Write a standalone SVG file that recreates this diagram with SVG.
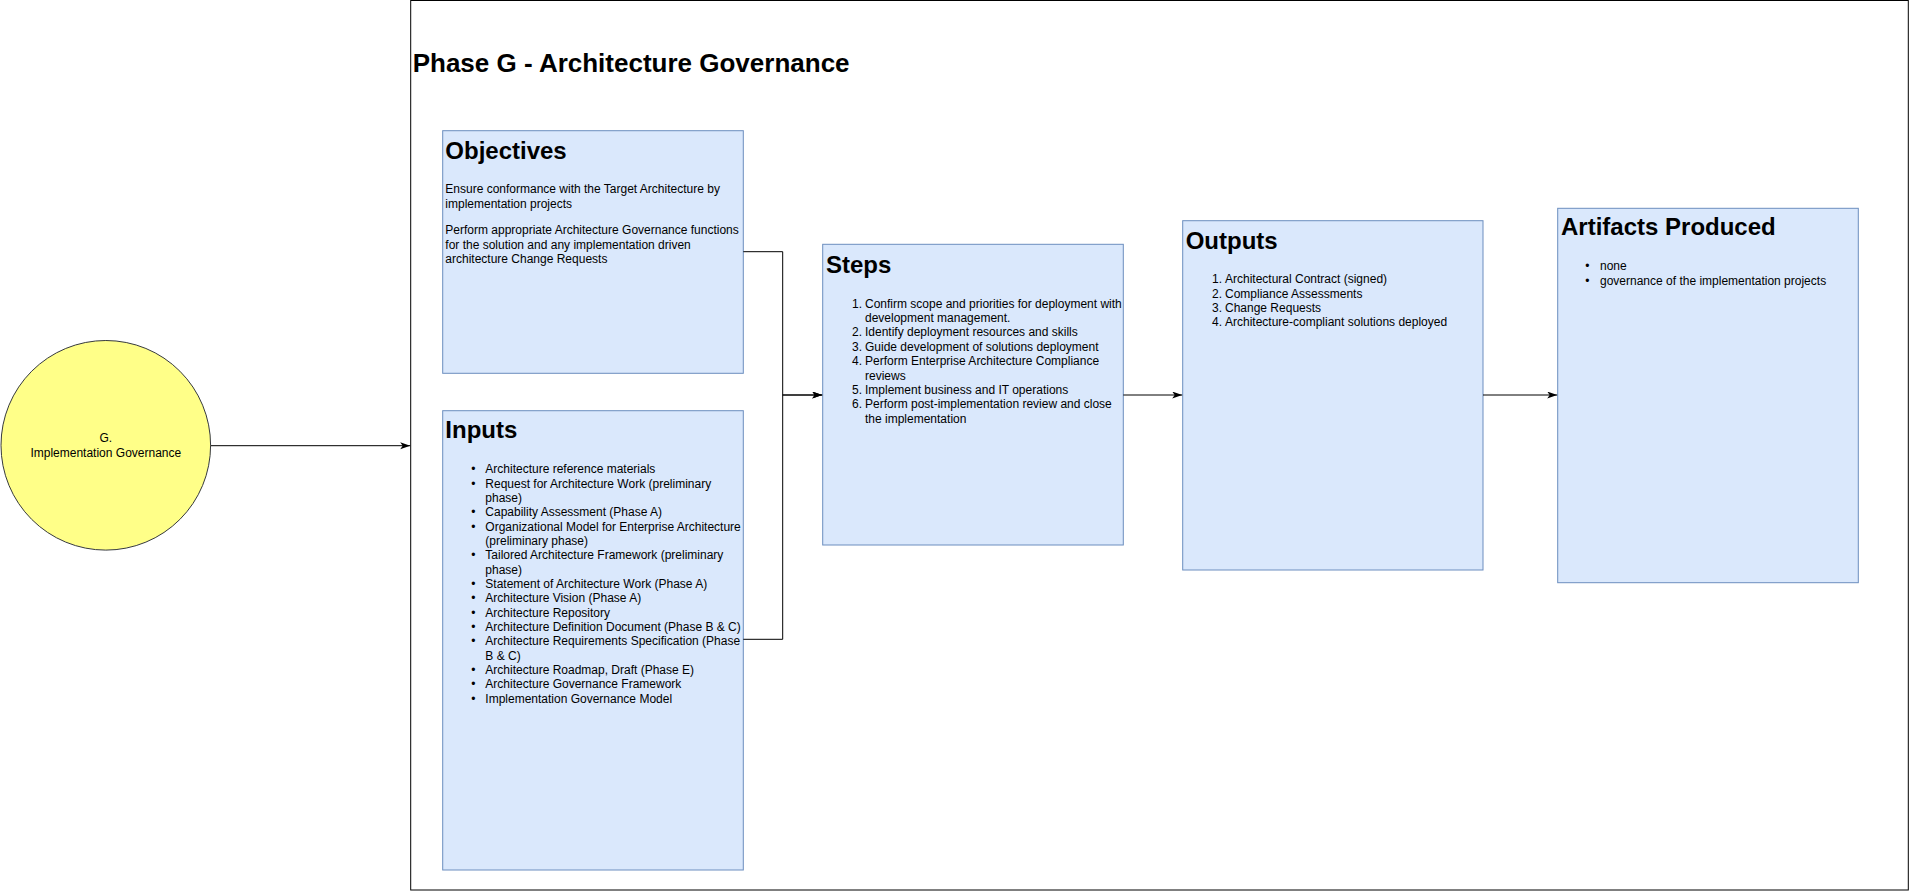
<svg xmlns="http://www.w3.org/2000/svg" width="1911" height="891" viewBox="0 0 1911 891">
<style>
  .box{fill:#dae8fc;stroke:#6c8ebf;stroke-width:1;}
  .h{font-family:"Liberation Sans",Arial,sans-serif;font-weight:bold;font-size:24px;fill:#000;}
  .t{font-family:"Liberation Sans",Arial,sans-serif;font-size:12px;fill:#000;}
  .b{font-family:"Liberation Sans",Arial,sans-serif;font-size:12px;fill:#000;text-anchor:middle;}
  .n{font-family:"Liberation Sans",Arial,sans-serif;font-size:12px;fill:#000;text-anchor:end;}
  .conn{fill:none;stroke:#000;stroke-width:1;}
</style>
<defs>
  <marker id="arr" markerUnits="userSpaceOnUse" markerWidth="11" markerHeight="8" refX="10" refY="3.5" orient="auto">
    <path d="M0,0 L10,3.5 L0,7 L2.5,3.5 z" fill="#000"/>
  </marker>
</defs>
<rect width="1911" height="891" fill="#fff"/>

<g id="container">
  <rect x="410.7" y="0.5" width="1497.6" height="889.5" fill="#fff" stroke="#000" stroke-width="1"/>
  <text x="412.7" y="71.7" class="h" style="font-size:26px">Phase G - Architecture Governance</text>
</g>

<g id="objectives">
  <rect class="box" x="442.7" y="130.7" width="300.6" height="242.6"/>
  <text x="445.3" y="159.3" class="h">Objectives</text>
  <text class="t"><tspan x="445.3" y="193.3">Ensure conformance with the Target Architecture by</tspan><tspan x="445.3" y="207.5">implementation projects</tspan><tspan x="445.3" y="234.3">Perform appropriate Architecture Governance functions</tspan><tspan x="445.3" y="248.5">for the solution and any implementation driven</tspan><tspan x="445.3" y="262.7">architecture Change Requests</tspan></text>
</g>

<g id="inputs">
  <rect class="box" x="442.7" y="410.7" width="300.6" height="459.3"/>
  <text x="445.3" y="438.3" class="h">Inputs</text>
  <text class="b" x="473.3" y="473.3">•</text>
  <text class="b" x="473.3" y="487.6">•</text>
  <text class="b" x="473.3" y="516.3">•</text>
  <text class="b" x="473.3" y="530.6">•</text>
  <text class="b" x="473.3" y="559.3">•</text>
  <text class="b" x="473.3" y="587.9">•</text>
  <text class="b" x="473.3" y="602.3">•</text>
  <text class="b" x="473.3" y="616.6">•</text>
  <text class="b" x="473.3" y="630.9">•</text>
  <text class="b" x="473.3" y="645.3">•</text>
  <text class="b" x="473.3" y="673.9">•</text>
  <text class="b" x="473.3" y="688.3">•</text>
  <text class="b" x="473.3" y="702.6">•</text>
  <text class="t"><tspan x="485.3" y="473.3">Architecture reference materials</tspan><tspan x="485.3" y="487.6">Request for Architecture Work (preliminary</tspan><tspan x="485.3" y="502.0">phase)</tspan><tspan x="485.3" y="516.3">Capability Assessment (Phase A)</tspan><tspan x="485.3" y="530.6">Organizational Model for Enterprise Architecture</tspan><tspan x="485.3" y="545.0">(preliminary phase)</tspan><tspan x="485.3" y="559.3">Tailored Architecture Framework (preliminary</tspan><tspan x="485.3" y="573.6">phase)</tspan><tspan x="485.3" y="587.9">Statement of Architecture Work (Phase A)</tspan><tspan x="485.3" y="602.3">Architecture Vision (Phase A)</tspan><tspan x="485.3" y="616.6">Architecture Repository</tspan><tspan x="485.3" y="630.9">Architecture Definition Document (Phase B &amp; C)</tspan><tspan x="485.3" y="645.3">Architecture Requirements Specification (Phase</tspan><tspan x="485.3" y="659.6">B &amp; C)</tspan><tspan x="485.3" y="673.9">Architecture Roadmap, Draft (Phase E)</tspan><tspan x="485.3" y="688.3">Architecture Governance Framework</tspan><tspan x="485.3" y="702.6">Implementation Governance Model</tspan></text>
</g>

<g id="steps">
  <rect class="box" x="822.7" y="244.3" width="300.6" height="300.7"/>
  <text x="826" y="273.3" class="h">Steps</text>
  <text class="n" x="862" y="307.5">1.</text>
  <text class="n" x="862" y="336.3">2.</text>
  <text class="n" x="862" y="350.7">3.</text>
  <text class="n" x="862" y="365.1">4.</text>
  <text class="n" x="862" y="393.9">5.</text>
  <text class="n" x="862" y="408.3">6.</text>
  <text class="t"><tspan x="865" y="307.5">Confirm scope and priorities for deployment with</tspan><tspan x="865" y="321.9">development management.</tspan><tspan x="865" y="336.3">Identify deployment resources and skills</tspan><tspan x="865" y="350.7">Guide development of solutions deployment</tspan><tspan x="865" y="365.1">Perform Enterprise Architecture Compliance</tspan><tspan x="865" y="379.5">reviews</tspan><tspan x="865" y="393.9">Implement business and IT operations</tspan><tspan x="865" y="408.3">Perform post-implementation review and close</tspan><tspan x="865" y="422.7">the implementation</tspan></text>
</g>

<g id="outputs">
  <rect class="box" x="1182.7" y="220.7" width="300.3" height="349.3"/>
  <text x="1185.7" y="249.3" class="h">Outputs</text>
  <text class="n" x="1222" y="283.2">1.</text>
  <text class="n" x="1222" y="297.5">2.</text>
  <text class="n" x="1222" y="311.8">3.</text>
  <text class="n" x="1222" y="326.1">4.</text>
  <text class="t"><tspan x="1225" y="283.2">Architectural Contract (signed)</tspan><tspan x="1225" y="297.5">Compliance Assessments</tspan><tspan x="1225" y="311.8">Change Requests</tspan><tspan x="1225" y="326.1">Architecture-compliant solutions deployed</tspan></text>
</g>

<g id="artifacts">
  <rect class="box" x="1557.7" y="208.3" width="300.6" height="374.4"/>
  <text x="1561" y="235" class="h">Artifacts Produced</text>
  <text class="b" x="1587.3" y="270.2">•</text>
  <text class="b" x="1587.3" y="284.5">•</text>
  <text class="t"><tspan x="1600" y="270.2">none</tspan><tspan x="1600" y="284.5">governance of the implementation projects</tspan></text>
</g>

<g id="phase-g">
  <circle cx="105.8" cy="445.3" r="104.8" fill="#ffff88" stroke="#36393d" stroke-width="1"/>
  <text class="b" x="105.8" y="441.5">G.</text>
  <text class="b" x="105.8" y="456.7">Implementation Governance</text>
</g>

<g id="connectors">
  <path class="conn" d="M210.7,445.7 H410.2" marker-end="url(#arr)"/>
  <path class="conn" d="M743.3,251.7 H782.7 V395 H822.2" marker-end="url(#arr)"/>
  <path class="conn" d="M743.3,639.3 H782.7 V395 H822.2" marker-end="url(#arr)"/>
  <path class="conn" d="M1123.3,395 H1182.2" marker-end="url(#arr)"/>
  <path class="conn" d="M1483,395 H1557.2" marker-end="url(#arr)"/>
</g>
</svg>
